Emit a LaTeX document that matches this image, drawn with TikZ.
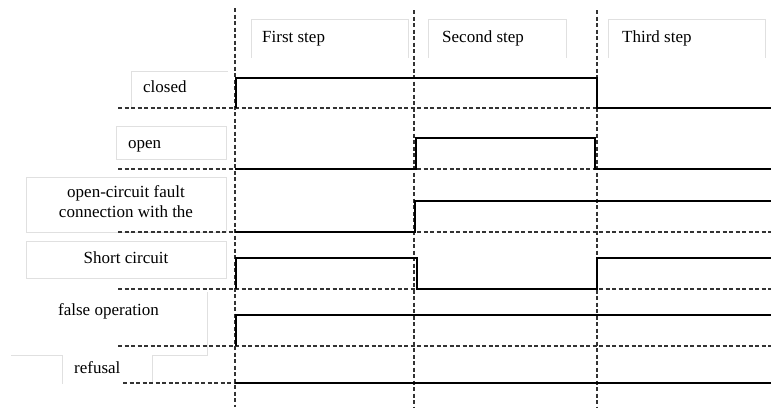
\documentclass[tikz,border=0pt]{standalone}
\usepackage{fontspec}
\setmainfont{Liberation Serif}
\usetikzlibrary{positioning}

\begin{document}
\begin{tikzpicture}[x=1pt,y=-1pt,
    grid/.style={draw=black!80,line width=1.1pt,dash pattern=on 4pt off 2.5pt},
    wave/.style={draw=black,line width=1.8pt,line join=miter},
    frame/.style={draw=black!12,line width=0.8pt},
    lbl/.style={font=\fontsize{17}{20}\selectfont,inner sep=0pt,anchor=base west}]
    \useasboundingbox (0,0) rectangle (771,407);

    % Step boundaries
    \draw[grid] (235,8) -- (235,407);
    \draw[grid] (414,10) -- (414,407);
    \draw[grid] (597,10) -- (597,407);

    % Step headers
    \draw[frame] (251,58) |- (408,19) -- (408,58);
    \draw[frame] (428,58) |- (566,19) -- (566,58);
    \draw[frame] (608,58) |- (765,19) -- (765,58);
    \node[lbl] (first) at (262,42) {First step};
    \node[lbl] (second) at (442,42) {Second step};
    \node[lbl] (third) at (622,42) {Third step};

    % Label boxes
    \draw[frame] (131,108) |- (228,71);
    \draw[frame] (116,126) rectangle (226,159);
    \draw[frame] (26,177) rectangle (226,232);
    \draw[frame] (26,241) rectangle (226,278);
    \draw[frame] (207,292) |- (152,355);
    \draw[frame] (11,355) -| (62,384);
    \draw[frame] (152,355) -- (152,383);

    % Labels
    \node[lbl] (closed) at (143,92) {closed};
    \node[lbl] (open) at (128,148) {open};
    \node[lbl,anchor=center,align=center] (fault) at (126,202)
        {open-circuit fault\\connection with the};
    \node[lbl,anchor=base] (short) at (126,263) {Short circuit};
    \node[lbl] (false) at (58,315) {false operation};
    \node[lbl] (refusal) at (74,373) {refusal};

    % Closed
    \draw[grid] (118,108) -- (771,108);
    \draw[wave] (236,108) -- (236,78) -- (597,78) -- (597,108) -- (771,108);

    % Open
    \draw[grid] (118,169) -- (771,169);
    \draw[wave] (235,169) -- (416,169) -- (416,138) -- (595,138) -- (595,169) -- (771,169);

    % Open-circuit fault
    \draw[grid] (118,232) -- (771,232);
    \draw[wave] (235,232) -- (415,232) -- (415,201) -- (771,201);

    % Short circuit
    \draw[grid] (118,289) -- (771,289);
    \draw[wave] (236,289) -- (236,258) -- (417,258) -- (417,289) -- (597,289) -- (597,258) -- (771,258);

    % False operation
    \draw[grid] (118,346) -- (771,346);
    \draw[wave] (236,346) -- (236,315) -- (771,315);

    % Refusal
    \draw[grid] (123,383) -- (235,383);
    \draw[wave] (235,383) -- (771,383);
\end{tikzpicture}
\end{document}
